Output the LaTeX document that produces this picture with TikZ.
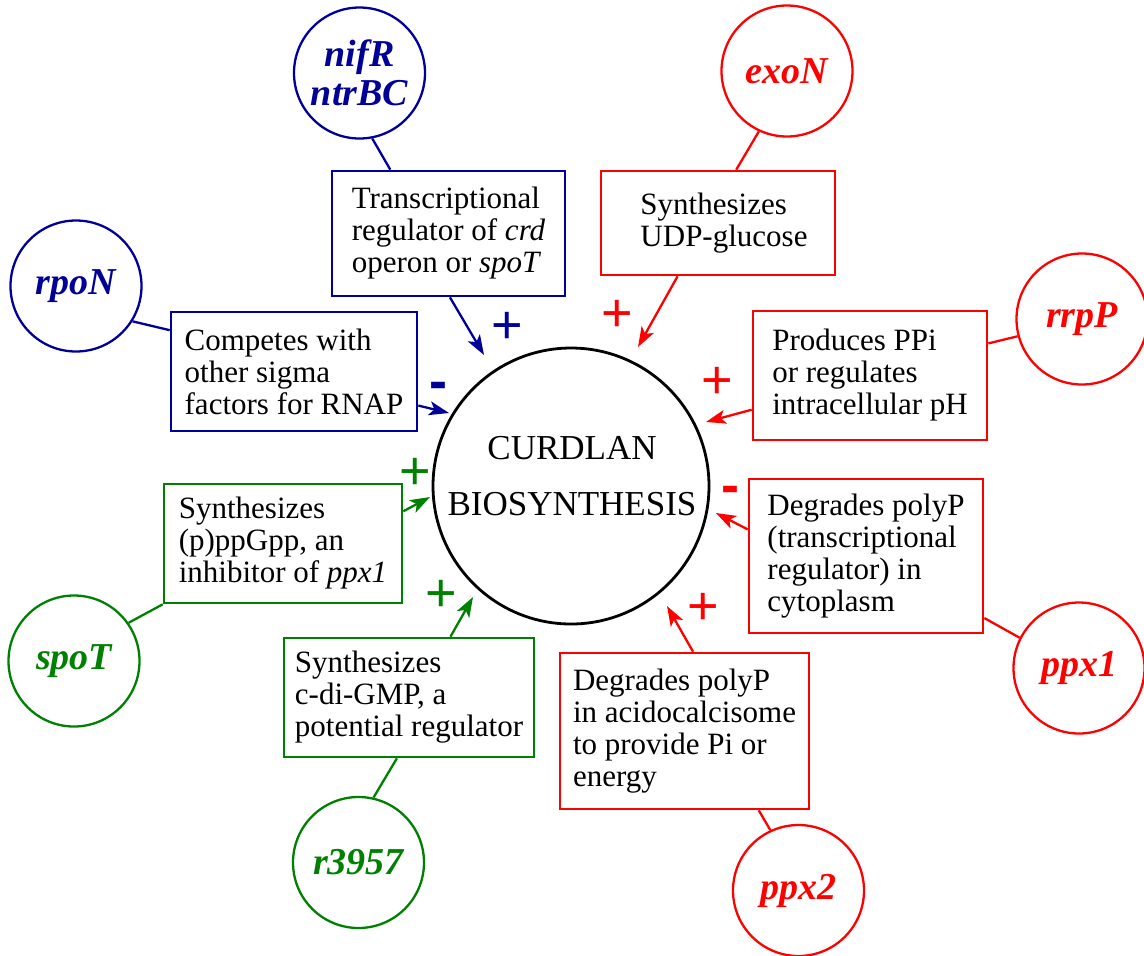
\documentclass[tikz,border=0pt]{standalone}
\usepackage{fontspec}
\setmainfont{Liberation Serif}
\newfontfamily\signfont{Liberation Sans}
\usetikzlibrary{arrows.meta,calc}
\definecolor{regblue}{RGB}{0,0,153}
\definecolor{reggreen}{RGB}{0,128,0}
\definecolor{regred}{RGB}{255,0,0}

\begin{document}
\begin{tikzpicture}[x=0.5pt,y=-0.5pt,
  gene/.style={circle, draw, line width=1.15pt, minimum size=65.5pt, inner sep=0pt,
    align=center, font=\fontsize{19}{19.5}\selectfont\bfseries\itshape},
  role/.style={rectangle, draw, line width=1.3pt, inner sep=0pt, align=left,
    text=black, font=\fontsize{15.5}{16}\selectfont},
  hub/.style={circle, draw=black, line width=1.4pt, minimum size=138pt, inner sep=0pt},
  hubtext/.style={align=center, inner sep=0pt, font=\fontsize{17.5}{28}\selectfont},
  link/.style={line width=1.15pt},
  act/.style={line width=1.15pt, -{Stealth[length=10pt,width=7pt,inset=2.5pt]}},
  sign/.style={inner sep=0pt, font=\signfont\fontsize{27}{27}\selectfont},
]
\useasboundingbox (0,0) rectangle (1144,955);

% central process
\node[hub] (curd) at (571,486) {};
\node[hubtext] (curdT) at (572,476.5) {CURDLAN\\BIOSYNTHESIS};

% genes
\node[gene, regblue]  (nifG)  at (359.5,73)    {nifR\\ntrBC};
\node[gene, regblue]  (rpoG)  at (76,286)      {rpoN};
\node[gene, regred]   (exoG)  at (787,71)      {exoN};
\node[gene, regred]   (rrpG)  at (1082,319)    {rrpP};
\node[gene, regred]   (ppxaG) at (1079,668)    {ppx1};
\node[gene, regred]   (ppxbG) at (798.5,890.5) {ppx2};
\node[gene, reggreen] (spoG)  at (74,661)      {spoT};
\node[gene, reggreen] (rG)    at (358.5,862.5) {r3957};

% roles
\node[role, draw=regblue, minimum width=116.5pt, minimum height=62.5pt] (nifB) at (448.5,233.5)
  {Transcriptional\\regulator of \textit{crd}\\operon or \textit{spoT}};
\node[role, draw=regblue, minimum width=123pt, minimum height=59.5pt] (rpoB) at (294,371.5)
  {Competes with\\other sigma\\factors for RNAP};
\node[role, draw=regred, minimum width=117pt, minimum height=52pt] (exoB) at (718,223)
  {\hspace*{6pt}Synthesizes\\\hspace*{6pt}UDP-glucose};
\node[role, draw=regred, minimum width=117pt, minimum height=64.5pt] (rrpB) at (870,375.5)
  {Produces PPi\\or regulates\\intracellular pH};
\node[role, draw=regred, minimum width=117pt, minimum height=77pt] (ppxaB) at (866,556)
  {Degrades polyP\\(transcriptional\\regulator) in\\cytoplasm};
\node[role, draw=regred, minimum width=124.5pt, minimum height=78pt] (ppxbB) at (684.5,731)
  {Degrades polyP\\in acidocalcisome\\to provide Pi or\\energy};
\node[role, draw=reggreen, minimum width=119pt, minimum height=59.5pt] (spoB) at (283,543.5)
  {Synthesizes\\(p)ppGpp, an\\inhibitor of \textit{ppx1}};
\node[role, draw=reggreen, minimum width=125pt, minimum height=59.5pt] (rB) at (409,697.5)
  {Synthesizes\\c-di-GMP, a\\potential regulator};

% arrow ends near the central circle
\coordinate (tipNif)  at (484,355);
\coordinate (tipRpo)  at (449,413);
\coordinate (tipExo)  at (638,347);
\coordinate (tipRrp)  at (706,422);
\coordinate (tipPpxa) at (716,513);
\coordinate (tipPpxb) at (667,606);
\coordinate (tipSpo)  at (430,497);
\coordinate (tipR)    at (473,597);

% gene to role links
\draw[link, regblue] (nifG.-79) -- ($(nifB.north west)!0.253!(nifB.north east)$);
\draw[link, regblue] (rpoG.-32) -- ($(rpoB.north west)!0.16!(rpoB.south west)$);
\draw[link, regred] (exoG.-115) -- ($(exoB.north west)!0.577!(exoB.north east)$);
\draw[link, regred] (rrpG.-165) -- ($(rrpB.north east)!0.256!(rrpB.south east)$);
\draw[link, regred] ($(ppxaB.north east)!0.896!(ppxaB.south east)$) -- (ppxaG.153);
\draw[link, regred] ($(ppxbB.south west)!0.795!(ppxbB.south east)$) -- (ppxbG.115);
\draw[link, reggreen] (spoG.35) -- (spoB.south west);
\draw[link, reggreen] ($(rB.south west)!0.452!(rB.south east)$) -- (rG.77);

% role effects on biosynthesis
\draw[act, regblue] ($(nifB.south west)!0.506!(nifB.south east)$) -- (tipNif);
\draw[act, regblue] ($(rpoB.north east)!0.78!(rpoB.south east)$) -- (tipRpo);
\draw[act, regred] ($(exoB.south west)!0.329!(exoB.south east)$) -- (tipExo);
\draw[act, regred] ($(rrpB.north west)!0.76!(rrpB.south west)$) -- (tipRrp);
\draw[act, regred] ($(ppxaB.north west)!0.33!(ppxaB.south west)$) -- (tipPpxa);
\draw[act, regred] ($(ppxbB.north west)!0.534!(ppxbB.north east)$) -- (tipPpxb);
\draw[act, reggreen] ($(spoB.north east)!0.235!(spoB.south east)$) -- (tipSpo);
\draw[act, reggreen] ($(rB.north west)!0.664!(rB.north east)$) -- (tipR);

% signs of the effects
\node[sign, regblue]  (sNif)  at (507,328) {+};
\node[sign, regblue]  (sRpo)  at (438,391) {\bfseries -};
\node[sign, regred]   (sExo)  at (617,316) {+};
\node[sign, regred]   (sRrp)  at (717,383) {+};
\node[sign, regred]   (sPpxa) at (730,495) {\bfseries -};
\node[sign, regred]   (sPpxb) at (703,609) {+};
\node[sign, reggreen] (sSpo)  at (415,474) {+};
\node[sign, reggreen] (sR)    at (441,596) {+};
\end{tikzpicture}
\end{document}
